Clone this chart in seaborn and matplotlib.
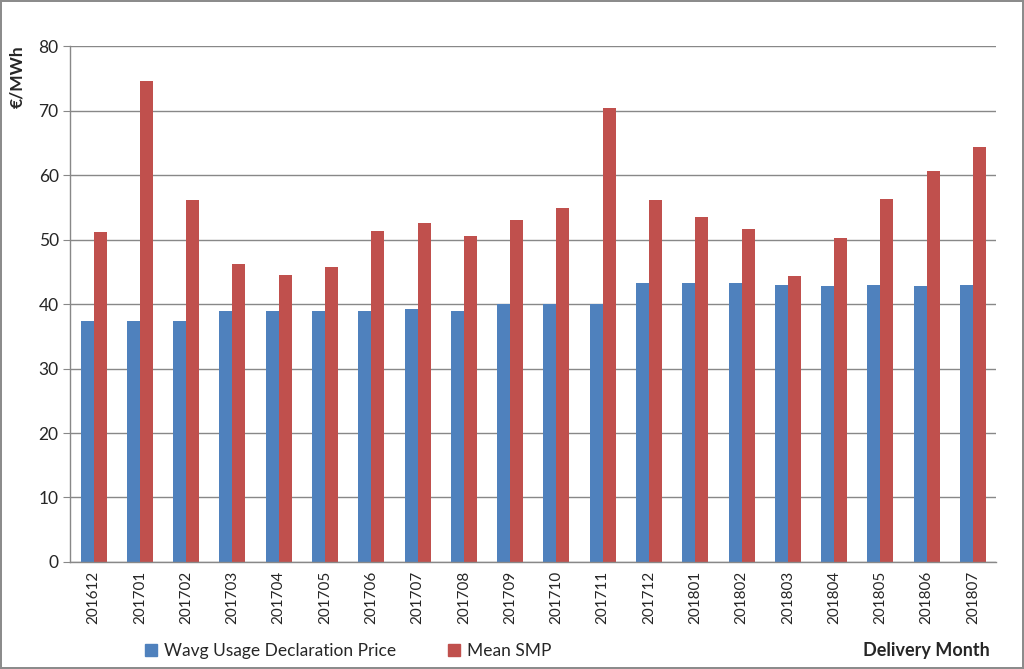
import numpy as np
import pandas as pd
import matplotlib
matplotlib.use("Agg")
import matplotlib.pyplot as plt
import seaborn as sns

# data
months = ["201612", "201701", "201702", "201703", "201704", "201705", "201706",
          "201707", "201708", "201709", "201710", "201711", "201712", "201801",
          "201802", "201803", "201804", "201805", "201806", "201807"]
wavg_price = [37.4, 37.4, 37.4, 38.9, 38.9, 38.9, 39.0, 39.2, 39.0, 40.0,
              40.0, 40.0, 43.3, 43.3, 43.3, 43.0, 42.8, 42.9, 42.8, 42.9]
mean_smp = [51.1, 74.6, 56.2, 46.2, 44.5, 45.7, 51.3, 52.5, 50.5, 53.0,
            54.9, 70.4, 56.1, 53.5, 51.6, 44.3, 50.3, 56.3, 60.7, 64.3]
series_names = ["Wavg Usage Declaration Price", "Mean SMP"]
y_ticks = [0, 10, 20, 30, 40, 50, 60, 70, 80]

df = pd.DataFrame({"month": months * 2,
                   "value": wavg_price + mean_smp,
                   "series": [series_names[0]] * len(months) + [series_names[1]] * len(months)})

sns.set_style("white")
plt.rcParams["font.family"] = ["Lato", "DejaVu Sans"]

fig = plt.figure(figsize=(10.24, 6.69), dpi=100, linewidth=1.5, edgecolor="#8c8c8c")
ax = fig.add_axes([0.0688, 0.16, 0.904, 0.771])

palette = {series_names[0]: "#4F81BD", series_names[1]: "#C0504D"}
sns.barplot(data=df, x="month", y="value", hue="series", palette=palette,
            width=0.56, saturation=1, linewidth=0, ax=ax, legend=False)

ax.set_ylim(0, 80)
ax.set_yticks(y_ticks)
ax.set_xlim(-0.5, len(months) - 0.5)
ax.yaxis.grid(True, color="#888888", linewidth=1)
ax.set_axisbelow(True)
for s in ["top", "right"]:
    ax.spines[s].set_visible(False)
for s in ["left", "bottom"]:
    ax.spines[s].set_color("#888888")
    ax.spines[s].set_linewidth(1)
ax.tick_params(axis="y", which="both", left=True, length=5, color="#888888", labelsize=12.5)
ax.tick_params(axis="x", length=0, labelsize=11, rotation=90, pad=6)
ax.set_xlabel("")
ax.set_ylabel("€/MWh", fontsize=12.5, fontweight="bold")
ax.yaxis.set_label_coords(-0.049, 0.94)

handles = [plt.Rectangle((0, 0), 1, 1, color=palette[n]) for n in series_names]
fig.legend(handles, series_names, loc="center", bbox_to_anchor=(0.34, 0.027), ncol=2,
           frameon=False, fontsize=12.5, handlelength=0.7, handleheight=0.7,
           handletextpad=0.4, columnspacing=3.0)
fig.text(0.967, 0.027, "Delivery Month", ha="right", va="center", fontsize=13, fontweight="bold")

fig.savefig("out.png", dpi=100)
